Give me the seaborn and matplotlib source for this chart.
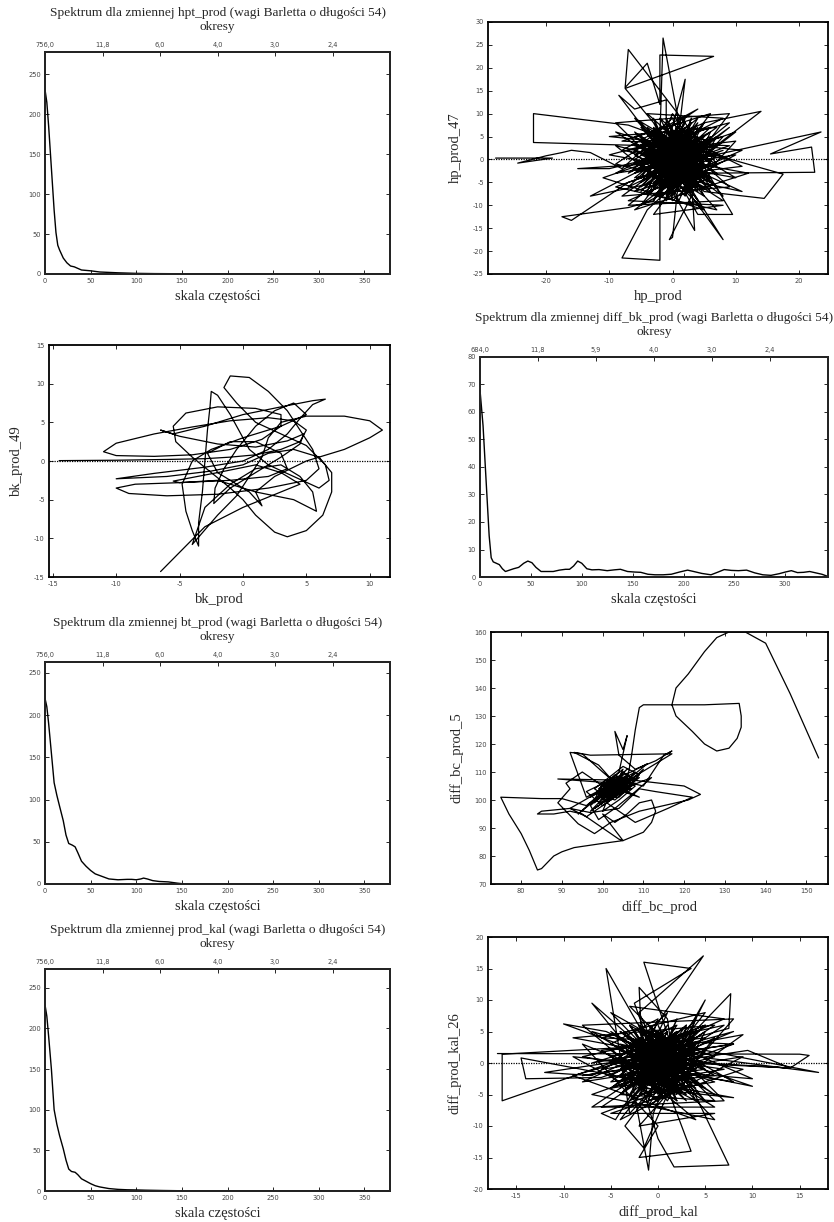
import matplotlib
matplotlib.use("Agg")
import matplotlib.pyplot as plt
import seaborn as sns
import pandas as pd

sns.set_style("white")
plt.rcParams['font.family'] = ['Liberation Serif', 'DejaVu Serif']
plt.rcParams['axes.unicode_minus'] = False

# ---------------- spectrum data ----------------
hpt_freq = [0, 2, 4, 6, 8, 10, 12, 14, 16, 18, 20, 24, 28, 32, 36, 40, 45, 50, 60, 70, 80, 100, 120, 150, 200, 250, 300, 378]
hpt_spec = [231, 215, 185, 150, 115, 80, 52, 36, 30, 25, 20, 14, 10, 9, 7, 5, 4.5, 4, 2.5, 2, 1.5, 0.8, 0.5, 0.3, 0.1, 0.05, 0.02, 0.01]

bt_freq = [0, 2, 4, 7, 10, 13, 16, 20, 23, 26, 30, 33, 36, 40, 45, 50, 55, 60, 70, 80, 90, 95, 100, 105, 108, 112, 118, 125, 135, 145, 150, 160, 200, 300, 378]
bt_spec = [220, 210, 190, 155, 120, 105, 92, 75, 58, 48, 46, 44, 37, 27, 21, 16, 12, 10, 6, 5, 5.5, 5.5, 5, 6, 7, 6, 4, 3, 2.5, 1, 0.4, 0.1, 0.05, 0.02, 0.01]

pk_freq = [0, 2, 4, 7, 10, 13, 16, 20, 23, 26, 29, 33, 36, 40, 45, 50, 55, 60, 65, 70, 80, 90, 100, 110, 120, 130, 150, 200, 300, 378]
pk_spec = [229, 215, 190, 150, 100, 82, 68, 52, 38, 27, 24, 23, 20, 15, 12, 9, 6.5, 5, 4, 3, 2, 1.5, 1.3, 1, 0.8, 0.6, 0.3, 0.1, 0.03, 0.01]

dbk_freq = [0, 3, 6, 9, 11, 13, 16, 19, 22, 25, 29, 33, 38, 43, 47, 51, 55, 60, 66, 72, 78, 84, 88, 92, 96, 100, 105, 110, 117, 125, 132, 138, 145, 152, 158, 165, 172, 180, 188, 196, 204, 210, 218, 227, 234, 240, 247, 254, 262, 270, 278, 286, 294, 300, 306, 312, 318, 324, 330, 336, 342]
dbk_spec = [68, 55, 35, 15, 7, 5.5, 5, 4.5, 3, 2, 2.5, 3, 3.5, 5, 5.8, 5.2, 3.5, 2, 2, 2, 2.5, 2.8, 2.8, 4, 5.8, 5, 3, 2.6, 2.7, 2.3, 2.6, 2.8, 2, 1.8, 1.7, 1, 0.8, 0.8, 1, 1.8, 2.5, 2, 1.3, 0.8, 1.8, 2.7, 2.4, 2.3, 2.5, 1.5, 0.8, 0.6, 1.2, 1.8, 2.3, 1.6, 1.7, 2, 1.5, 1, 0.2]

period_pos_756 = [0, 63, 126, 189, 252, 315]
period_lab_756 = ["756,0", "11,8", "6,0", "4,0", "3,0", "2,4"]
period_pos_684 = [0, 57, 114, 171, 228, 285]
period_lab_684 = ["684,0", "11,8", "5,9", "4,0", "3,0", "2,4"]

# ---------------- cross-plot data: (x, lagged x) ----------------
hp_path = [(-28, 0.3), (-19, 0.3), (-24.5, -0.8), (-20, 0.8), (-17.5, 1.5), (-16, 2), (-13, 1.5), (-8, -2), (-4, 3),
           (-22, 3.7), (-22, 10), (-7, 7.5), (-2, 5), (3, -4), (1, 6), (-5, -2), (6, 3), (-3, -6), (2, 7), (-1, -3),
           (8, 2), (-7, -5), (-16, -13.3), (-17.5, -12.5), (-7, -10.5), (-3, -9), (4, 4), (-2, 1), (5, -5), (-6, 2),
           (0, 9), (3, -2), (-4, -11), (-8, -21.5), (-2, -22), (-2, -2), (1, 8), (-1.5, 26.5), (-2, 5), (4, -3),
           (-3, 6), (7, -1), (-7, 24), (-7.5, 15.7), (-4, 21), (-2, 12), (-2, 22.8), (6.5, 22.5), (-7.5, 15.5),
           (-3, 8), (2, -5), (-8.5, 14), (-6, 11), (-1, 13), (-1, 2), (2, 17.5), (1, 6), (-4, 0), (4, 9), (-2, -5),
           (5, 1), (14, 10.5), (5, 8), (0, -1), (23.5, 6), (15.5, 1.2), (22, 2.7), (22.5, -2.8), (5, -3), (-1, 4),
           (17.5, -3.2), (14.5, -8.5), (5, -7), (0, 0), (8, -17.5), (3, -8), (-0.5, -17.5), (0, -17), (1, -4),
           (-13, -8), (-6, -3), (3, 3), (9.5, -12), (4, -12), (-2, 2), (10, 4), (6, -2), (-9, 3), (0, -7),
           (3.5, -15.5), (3, -5), (-5, 5), (8, -8), (2, 2), (-10, -2), (-15, -2), (-4, -1), (6, 6), (1, -9),
           (-3, 3), (9, 0), (-6, -7), (4, 5), (-1, -6), (7, 3), (-5, 1), (2, -3), (11, -1.5), (3, 4), (-4, -4),
           (0, 10), (5, -1), (-2, 6), (1, -2), (-3, -2), (4, 2), (-5, -6), (3, 7), (-2, -8), (6, -4), (-4, 4),
           (1, 1), (-6, -1), (5, 5), (0, -4), (-3, 9), (2, -6), (7, 1), (-1, 3), (4, -7), (-5, 7), (3, 0),
           (-2, -3), (6, 4), (0, 6), (-4, -7), (5, -3), (1, 4), (-6, 3), (2, -1), (-1, -9), (8, 5), (-3, 1),
           (4, -5), (0, 2), (-7, -3), (3, 8), (-2, -6), (6, -6), (1, 3), (-4, 6), (5, 0), (-1, -2), (2, 9),
           (-5, -4), (4, 3), (0, -3), (9, 7), (-3, -5), (1, -1), (-2, 4), (3, -6), (-1, 7), (5, -4), (-4, 2),
           (2, 5), (0, -5), (6, 1), (-3, -1), (1, 7), (4, -2), (-2, -7), (3, 6), (-5, 3), (2, -4), (0, 1),
           (-5, 8), (4, -6), (-2, 9), (6, -1), (-6, -4), (3, 6), (-1, -8), (5, 3), (-4, 2), (2, -7), (7, 5),
           (-3, -3), (1, 8), (-6, 5), (4, -4), (0, -9), (-2, 3), (6, 7), (-5, -7), (2, 4), (-1, -4), (7, -3),
           (-4, 7), (3, -8), (0, 5), (-6, 0), (5, -6), (-2, -1), (4, 8), (-3, -9), (1, 2), (6, -5), (-5, 3),
           (2, -2), (-1, 9), (5, -8), (-7, 2), (3, 5), (0, -6), (-4, -2), (6, 2), (-2, 7), (1, -7), (-5, -1),
           (4, 6), (-3, -6), (2, 1), (7, -6), (-6, 6), (0, -2), (3, 9), (-1, -5), (5, 4), (-4, -8), (2, 7),
           (-2, -4), (6, 0), (-5, 4), (1, -3), (4, -9), (-3, 5), (0, 3), (-7, -6), (5, 2), (-1, 6), (3, -3),
           (-4, 1), (2, -8), (6, 5), (-2, -2), (1, 6), (-6, -3), (4, 1), (0, -8), (-3, 7), (5, -2), (-1, 0),
           (2, 8), (-5, -5), (3, 2), (-2, 5), (6, -7), (0, 4), (-4, -3), (1, -6), (4, 7), (-3, 0), (2, -5),
           (-6, 1), (5, 8), (-1, -7), (3, 1),
           (-9, 6), (8, -9), (-7, -10), (9, 8), (-10, 1), (10, -4), (-6, 9), (7, -11), (-9, -6), (9, 3),
           (-8, 4), (6, 10), (-5, -10), (10, 1), (-9, -3), (8, 9), (-4, 10), (9, -6), (-8, -8), (7, 7),
           (-10, 5), (11, 2), (-7, -9), (8, -10), (-3, -12), (9, 10), (-9, 8), (5, -11), (-11, -4), (10, 6),
           (-6, -11), (12, -3), (-8, 2), (4, 11), (-9, -1), (11, -7), (0, 0)]

bk_path = [(-14.5, 0.05), (-10, 0.1), (-6, 0.2), (-3, 0.3), (-1, 0.5), (1, 0.8), (3, 1.5), (4.5, 2.5), (5, 4),
           (4, 5.2), (2, 5.6), (-1, 5.2), (-4, 4.4), (-7, 3.5), (-10, 2.3), (-11, 1.2), (-10, 0.7), (-7, 0.6),
           (-4, 0.8), (-1, 1.5), (1.5, 2.8), (3, 4.5), (3, 6), (1, 6.8), (-2, 7), (-4.5, 6.2), (-5.5, 4.5),
           (-5.3, 2.5), (-4, 0.5), (-2.5, -1.5), (-1, -3.5), (0, -5), (1, -7), (2.5, -9.2), (3.5, -9.8), (5, -9),
           (6.3, -7), (7, -4), (7, -1.5), (6, 0.5), (4, 1.5), (2, 1), (0, -0.5), (-2.5, -1.3), (-6, -2), (-10, -2.3),
           (-7, -1.6), (-3, -0.8), (0, 0), (2, 1.5), (3.5, 3.5), (4.5, 5.5), (5.5, 7.3), (6.5, 8), (5.5, 7.8),
           (3, 7), (0, 6), (-3, 4.5), (-5.5, 3.5), (-6.5, 4), (-5, 3.2), (-2, 2.2), (1, 1.8), (3.5, 2.6), (4.8, 3.5),
           (4.5, 2.2), (3, 0.5), (1, -1.5), (-1, -3.5), (-2.3, -5.5), (-2.2, -3.5), (-1.5, -1), (-0.5, 1.5),
           (1, 4.5), (2.5, 6.5), (4, 7.5), (5, 6), (3, 4.5), (0, 3), (-2.5, 1.5), (-4, 0), (-4.8, -3), (-4.5, -6.5),
           (-4, -9), (-3.5, -11), (-3.5, -8), (-3.2, -4), (-3, 0), (-2.8, 4), (-2.6, 7), (-2.5, 9), (-2, 8.5),
           (-1, 6), (0, 3), (0.5, 1.5), (2, -0.5), (4, -2), (6, -3.5), (6.8, -2.5), (6.5, -0.5), (5, 2), (3, 3.5),
           (1, 5), (-0.5, 7.5), (-1.5, 9.5), (-1, 11), (0.5, 10.8), (2, 9), (3.5, 6.5), (4.5, 4), (5.5, 1.5),
           (6, -1), (5, -2.5), (2, -3.5), (-2, -4.3), (-6, -4.5), (-9, -4.2), (-10, -3.5), (-8.5, -3), (-5, -2.8),
           (-1, -2.5), (2, -2), (3.5, -1), (3, 1), (1, 2.5), (-1, 2.5), (-2.8, 1), (-2, -1.5), (0.5, -4),
           (1.5, -5.8), (1, -4), (2.5, -2), (5, 0), (8, 1.5), (10, 3), (11, 4), (10, 5.2), (8, 5.8), (5, 5.8),
           (3, 5), (2, 3), (1.5, 0.5), (0.5, -2), (-0.5, -4.5), (-2, -7), (-4, -10.8), (-3, -6), (-1, -3), (1, -1),
           (3, -0.5), (4.5, -2), (5.5, -4), (5.8, -6.5), (4, -5), (1, -4), (-2, -2.5), (-5, -2.8), (-5.5, -2.6),
           (-2, -1.5), (1, -0.5), (3, -1.5), (4.5, -3), (3, -4), (0, -6), (-3, -8.5), (-6.5, -14.3)]

bc_path = [(103, 105), (101, 104), (99, 101), (104, 103), (106, 106), (102, 104), (98, 100), (100, 106), (106, 108),
           (103, 101), (99, 99), (105, 110), (108, 107), (101, 102), (97, 96), (104, 103), (110, 111), (106, 104),
           (100, 98), (96, 103), (103, 108), (107, 106), (102, 100), (98, 104), (105, 112), (109, 109), (104, 101),
           (99, 101), (94, 95), (97, 99), (103, 105), (101, 107), (107, 110), (111, 113), (106, 107), (102, 103),
           (100, 96), (104, 100), (108, 105), (103, 109), (98, 102), (92, 97), (96, 94), (101, 99), (105, 104),
           (112, 108), (108, 103), (103, 97), (99, 93), (97, 98), (104, 107), (110, 105), (115, 116), (117, 117.5),
           (113, 114), (108, 111), (104, 116), (103, 124.5), (105, 118), (106, 123), (104, 110), (100, 104),
           (96, 101), (92, 117), (95, 116.5), (100, 110), (104, 105), (117, 116.5), (97, 116), (93, 117),
           (99, 112.5), (103, 106), (89, 107.5), (108, 107), (120, 105), (124, 102), (121, 100), (109, 96),
           (102, 92), (98, 88), (94, 91.5), (91, 96), (89, 99), (92, 104), (91, 106), (95, 110), (97, 108),
           (101, 104), (96, 98), (90, 100.5), (85, 100.5), (75, 101), (77, 95), (80, 88), (82, 82), (84, 75),
           (85, 75.5), (88, 80), (90, 81.5), (93, 83), (100, 84.5), (105, 85.5), (110, 88.5), (112, 92),
           (113, 96), (112, 100), (109, 99), (106, 95), (103, 92), (100, 95), (105, 85.5), (104, 86), (95, 95),
           (92, 96), (88, 95), (84, 95), (85, 96), (92, 97), (97, 95.5), (104, 97), (109, 104), (113, 103),
           (122, 101), (116, 97), (108, 92), (101, 99), (103, 104), (106, 103), (109, 101), (105, 103),
           (100, 103), (106, 109), (98, 99), (104, 108), (101, 105), (107, 104), (99, 103), (105, 107),
           (102, 101), (108, 110), (97, 101), (103, 107), (106, 103), (100, 100), (104, 106), (109, 108),
           (101, 99), (105, 111), (99, 104), (103, 102), (107, 108), (100, 105), (104, 103), (102, 108),
           (106, 105), (98, 97), (105, 104), (101, 106), (108, 106), (103, 100), (99, 102), (106, 111),
           (102, 105), (104, 102), (100, 101), (107, 107), (103, 104), (105, 109), (101, 103), (104, 107),
           (103, 106), (102, 104), (104, 105), (107, 104), (101, 101), (103, 103), (105, 106), (102, 102),
           (104, 104), (106, 107), (107, 115), (108, 125), (109, 133), (110, 134), (117, 134), (125, 134),
           (133.5, 134.5), (134, 130), (134, 126), (133, 122), (131, 118.5), (128, 117.5), (125, 120),
           (122, 124.5), (118, 130), (117, 134), (118, 140), (121, 145), (125, 153), (128, 158), (131, 160),
           (135, 160), (140, 156), (146, 138), (153, 115)]

kal_path = [(-17, 1.5), (15, 1.4), (16, 1.2), (14, -0.8), (3, 0), (-1, 3), (2, -2), (-3, 1), (1, 5), (-2, -4), (4, 2),
            (-4, -1), (0, -6), (3, 3), (-16.5, 1.4), (-16.5, -6), (-5, 0), (2, 4), (-1, -3), (-14.5, 0.8),
            (-14, -2.5), (-6, -2.3), (0, 1), (5, -2), (-10, 6.2), (-5.5, 5), (3, -1), (-2, 2), (4.8, 17), (-2, 8),
            (1, -2), (-5.5, 15), (-3, -8), (2, 0), (-1.5, 16), (3.5, 15), (-2.5, 9.5), (0, -1), (7.7, 11),
            (7.5, 5.5), (-1, 2), (17, -1.5), (5, 2), (-3, -1), (-1, -17), (-0.5, -8), (2, 1), (7.5, -16.2),
            (1.7, -16.5), (0, -12), (-3, 3), (10, -3.7), (1, -1), (-7, 9.5), (-4, 4), (3, -3), (-6, -8),
            (-4.5, -9), (-2, -3), (4, 7), (1, -5), (-1.5, -13.5), (-3.5, -10), (0, -3), (5, 10), (3, 4), (-4, -5),
            (6, -6), (-1, 4), (3.5, -14), (-2, -15), (0, -10), (-8, 3), (2, -3), (9, 4.5), (0, 2), (-5, -2),
            (8, -5.5), (-1.5, -4), (-2, 12), (1, 7), (2, -4), (-3, 6), (0, 0), (4, -1), (-9, 1), (-4, -3), (6, 1),
            (-1, 5), (2, -6), (-6, 2), (5, 4), (-2, -2), (1, 8), (-4, 1), (3, -5), (0, -2), (-3, 4), (4, 0),
            (-1, -7), (2, 3), (-5, -4), (7, -1), (-2, 1), (1, -3), (-3, -6), (5, 6), (0, 3), (-6, -1), (3, 1),
            (-1, -1), (2, 6), (-4, 2), (6, -3), (-2, -5), (1, 2), (-7, 0), (4, 5), (0, -4), (-3, -2), (3, -2),
            (-1, 1), (8, 3), (-12, -1.5), (-7, -2), (0, 4), (2, -1), (-4, 5), (4, -4), (-2, 3), (1, 0), (-8, -2),
            (9.5, 2), (14, -0.8), (5, 0), (-1, -5), (2, 5), (-3, 0), (0, -1), (3, 2), (10, -2.5), (-2, -1),
            (1, 4), (-1, -6), (3, -4), (-2, 6), (0, -3), (4, 3), (-3, -3), (2, 2), (-1, 0), (1, -2), (-2, 2),
            (0, 5), (2, -5), (-4, -2), (3, 0), (-1, 2),
            (-4, 5), (3, -4), (-1, 6), (5, -1), (-5, -3), (2, 5), (0, -6), (4, 3), (-3, 1), (1, -5), (6, 4),
            (-2, -2), (0, 7), (-5, 3), (3, -3), (-1, -6), (-2, 2), (5, 6), (-4, -5), (1, 3), (0, -3), (6, -2),
            (-3, 6), (2, -6), (-1, 4), (-5, 0), (4, -5), (-2, -1), (3, 6), (-3, -6), (1, 1), (5, -4), (-4, 2),
            (2, -1), (0, 6), (4, -6), (-5, 1), (2, 4), (-1, -5), (-3, -2), (5, 2), (-2, 5), (1, -4), (-4, -1),
            (3, 5), (-2, -4), (1, 0), (6, -5), (-5, 5), (0, -1), (2, 7), (-1, -3), (4, 4), (-3, -5), (1, 5),
            (-2, -3), (5, 0), (-4, 3), (0, -2), (3, -6), (-3, 4), (0, 2), (-5, -4), (4, 1), (-1, 5), (2, -2),
            (-3, 0), (1, -6), (5, 5), (-1, -1), (0, 4), (-4, -2), (3, 0), (0, -5), (-2, 6), (4, -1), (-1, 1),
            (1, 6), (-4, -4), (2, 2), (-2, 4), (5, -6), (0, 3), (-3, -3), (1, -5), (3, 6), (-2, 0), (1, -4),
            (-5, 2), (4, 5), (0, -4), (2, 1),
            (-7, 5), (6, -7), (-6, -7), (7, 6), (-8, 1), (8, -3), (-5, 8), (6, -9), (-7, -5), (8, 3),
            (-6, 4), (5, 8), (-4, -9), (9, 1), (-8, -3), (7, 7), (-3, 9), (7, -6), (-7, -7), (6, 6),
            (-9, 4), (9, -1), (-5, -8), (6, -8), (-2, -10), (8, 7), (-8, 6), (4, -9), (-9, -2), (8, 5), (0, 0)]

hp_prod = [p[0] for p in hp_path]
hp_prod_47 = [p[1] for p in hp_path]
bk_prod = [p[0] for p in bk_path]
bk_prod_49 = [p[1] for p in bk_path]
diff_bc_prod = [p[0] for p in bc_path]
diff_bc_prod_5 = [p[1] for p in bc_path]
diff_prod_kal = [p[0] for p in kal_path]
diff_prod_kal_26 = [p[1] for p in kal_path]

# ---------------- layout helpers ----------------
W, H = 834, 1222
fig = plt.figure(figsize=(W / 100, H / 100), dpi=100)


def box(x0, y0, x1, y1):
    return [x0 / W, 1 - y1 / H, (x1 - x0) / W, (y1 - y0) / H]


TICK_FONT = ['DejaVu Sans']
LABEL_SIZE = 10.5
TITLE_SIZE = 9.6


def style_axes(ax):
    for s in ax.spines.values():
        s.set_visible(True)
        s.set_linewidth(1.3)
        s.set_color('black')
    ax.tick_params(direction='in', length=3, width=0.7, labelsize=4.8,
                   labelcolor='#444444', pad=3, top=True, right=True,
                   bottom=True, left=True, labeltop=False, labelright=False)
    for lab in ax.get_xticklabels() + ax.get_yticklabels():
        lab.set_family(TICK_FONT)


def spectrum(rect, freq, spec, xmax, ymax, xticks, yticks, ppos, plab, title):
    ax = fig.add_axes(box(*rect))
    df = pd.DataFrame({'f': freq, 's': spec})
    sns.lineplot(data=df, x='f', y='s', ax=ax, color='black', lw=1.0,
                 estimator=None, sort=False)
    ax.set_xlim(0, xmax)
    ax.set_ylim(0, ymax)
    ax.set_xticks(xticks)
    ax.set_yticks(yticks)
    style_axes(ax)
    ax.tick_params(top=False)
    ax.set_xlabel('skala częstości', fontsize=LABEL_SIZE, labelpad=4)
    ax.set_ylabel('')
    ax2 = ax.twiny()
    ax2.set_xlim(0, xmax)
    ax2.set_xticks(ppos)
    ax2.set_xticklabels(plab, family=TICK_FONT)
    ax2.tick_params(direction='in', length=3, width=0.7, labelsize=4.8,
                    labelcolor='#444444', pad=3)
    for s in ax2.spines.values():
        s.set_linewidth(1.3)
    cx = (rect[0] + rect[2]) / 2 / W
    ty = rect[1] - 39
    fig.text(cx, 1 - ty / H, title, ha='center', va='center', fontsize=TITLE_SIZE)
    fig.text(cx, 1 - (ty + 14) / H, 'okresy', ha='center', va='center', fontsize=TITLE_SIZE)
    return ax


def crossplot(rect, x, y, xlim, ylim, xticks, yticks, xlabel, ylabel, zero=True, ylpad=8):
    ax = fig.add_axes(box(*rect))
    df = pd.DataFrame({'x': x, 'y': y})
    if zero:
        ax.axhline(0, color='black', lw=0.9, ls=(0, (1, 1)), zorder=1)
    sns.lineplot(data=df, x='x', y='y', ax=ax, color='black', lw=0.9,
                 estimator=None, sort=False, zorder=2)
    ax.set_xlim(*xlim)
    ax.set_ylim(*ylim)
    ax.set_xticks(xticks)
    ax.set_yticks(yticks)
    style_axes(ax)
    ax.set_xlabel(xlabel, fontsize=LABEL_SIZE, labelpad=4)
    ax.set_ylabel(ylabel, fontsize=LABEL_SIZE, labelpad=ylpad)
    return ax


# Row 1
spectrum((45, 52, 390, 274), hpt_freq, hpt_spec, 378, 278,
         [0, 50, 100, 150, 200, 250, 300, 350], [0, 50, 100, 150, 200, 250],
         period_pos_756, period_lab_756,
         'Spektrum dla zmiennej hpt_prod (wagi Barletta o długości 54)')
crossplot((488, 22, 828, 274), hp_prod, hp_prod_47, (-29.2, 24.6), (-25, 30),
          [-20, -10, 0, 10, 20], list(range(-25, 31, 5)), 'hp_prod', 'hp_prod_47')

# Row 2
crossplot((49, 345, 390, 577), bk_prod, bk_prod_49, (-15.3, 11.6), (-15, 15),
          [-15, -10, -5, 0, 5, 10], [-15, -10, -5, 0, 5, 10, 15], 'bk_prod', 'bk_prod_49')
spectrum((480, 357, 828, 577), dbk_freq, dbk_spec, 342, 80,
         [0, 50, 100, 150, 200, 250, 300], list(range(0, 81, 10)),
         period_pos_684, period_lab_684,
         'Spektrum dla zmiennej diff_bk_prod (wagi Barletta o długości 54)')

# Row 3
spectrum((45, 662, 390, 884), bt_freq, bt_spec, 378, 263,
         [0, 50, 100, 150, 200, 250, 300, 350], [0, 50, 100, 150, 200, 250],
         period_pos_756, period_lab_756,
         'Spektrum dla zmiennej bt_prod (wagi Barletta o długości 54)')
crossplot((491, 632, 828, 884), diff_bc_prod, diff_bc_prod_5, (72.6, 155.3), (70, 160),
          [80, 90, 100, 110, 120, 130, 140, 150], list(range(70, 161, 10)),
          'diff_bc_prod', 'diff_bc_prod_5', zero=False)

# Row 4
spectrum((45, 969, 390, 1191), pk_freq, pk_spec, 378, 273,
         [0, 50, 100, 150, 200, 250, 300, 350], [0, 50, 100, 150, 200, 250],
         period_pos_756, period_lab_756,
         'Spektrum dla zmiennej prod_kal (wagi Barletta o długości 54)')
crossplot((488, 937, 828, 1189), diff_prod_kal, diff_prod_kal_26, (-18, 18), (-20, 20),
          [-15, -10, -5, 0, 5, 10, 15], list(range(-20, 21, 5)),
          'diff_prod_kal', 'diff_prod_kal_26')

fig.savefig('out.png', dpi=100, facecolor='white')
